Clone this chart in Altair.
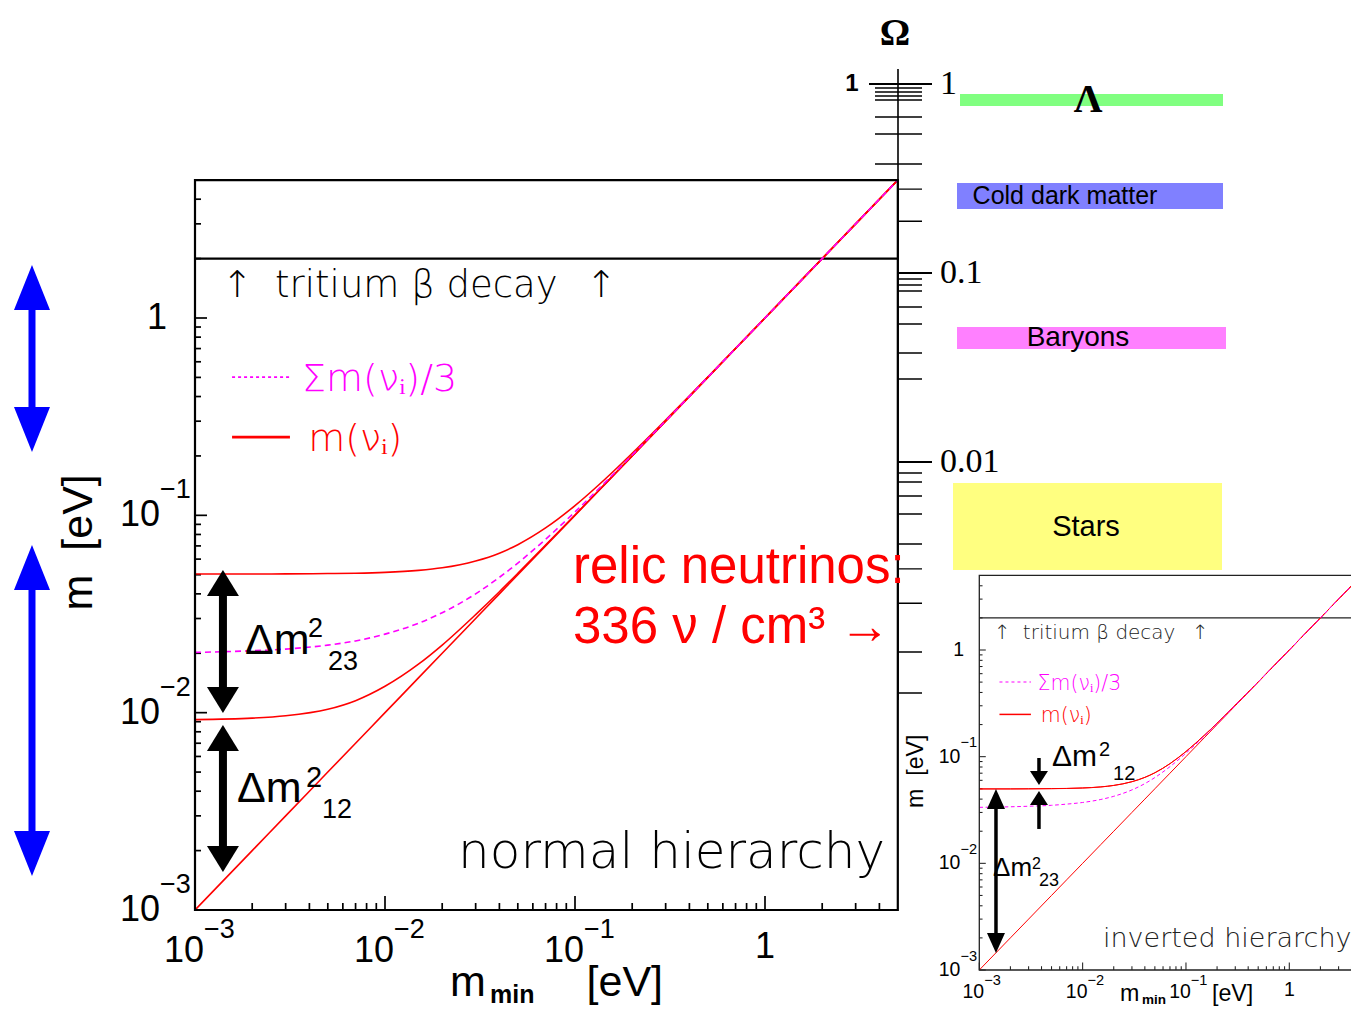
import math
import altair as alt
import pandas as pd

W, H = 1343, 1000
PAGE = 8

# ---------------- values ----------------
m_min = [0.001, 0.002, 0.003, 0.005, 0.007, 0.01, 0.015, 0.02, 0.03, 0.04,
         0.05, 0.07, 0.1, 0.15, 0.2, 0.3, 0.5, 0.7, 1.0, 2.0, 5.0]

# normal hierarchy
nh_m1 = [0.001, 0.002, 0.003, 0.005, 0.007, 0.01, 0.015, 0.02, 0.03, 0.04,
         0.05, 0.07, 0.1, 0.15, 0.2, 0.3, 0.5, 0.7, 1.0, 2.0, 5.0]
nh_m2 = [0.00922, 0.00938, 0.00964, 0.0104, 0.0115, 0.0136, 0.0176, 0.0220, 0.0314, 0.0410,
         0.0508, 0.0706, 0.1004, 0.1503, 0.2002, 0.3001, 0.5001, 0.7001, 1.0, 2.0, 5.0]
nh_m3 = [0.0504, 0.0504, 0.0505, 0.0507, 0.0509, 0.0514, 0.0526, 0.0542, 0.0587, 0.0643,
         0.0710, 0.0863, 0.1120, 0.1582, 0.2063, 0.3042, 0.5025, 0.7018, 1.0013, 2.0006, 5.0]
nh_sum3 = [0.0202, 0.0206, 0.0210, 0.0220, 0.0231, 0.0250, 0.0284, 0.0321, 0.0400, 0.0485,
           0.0573, 0.0756, 0.1041, 0.1528, 0.2022, 0.3014, 0.5009, 0.7006, 1.0004, 2.0002, 5.0]

# inverted hierarchy (inset)
ih_m1 = [0.0498, 0.0498, 0.0499, 0.0501, 0.0503, 0.0508, 0.0520, 0.0537, 0.0582, 0.0639,
         0.0706, 0.0859, 0.1117, 0.1580, 0.2061, 0.3041, 0.5025, 0.7018, 1.0012, 2.0006, 5.0]
ih_m2 = [0.0499, 0.0499, 0.0500, 0.0502, 0.0504, 0.0509, 0.0521, 0.0538, 0.0583, 0.0640,
         0.0707, 0.0860, 0.1118, 0.1581, 0.2062, 0.3041, 0.5025, 0.7018, 1.0012, 2.0006, 5.0]
ih_m3 = [0.001, 0.002, 0.003, 0.005, 0.007, 0.01, 0.015, 0.02, 0.03, 0.04,
         0.05, 0.07, 0.1, 0.15, 0.2, 0.3, 0.5, 0.7, 1.0, 2.0, 5.0]
ih_sum3 = [0.0335, 0.0339, 0.0343, 0.0350, 0.0359, 0.0372, 0.0397, 0.0425, 0.0488, 0.0559,
           0.0637, 0.0806, 0.1078, 0.1553, 0.2041, 0.3027, 0.5017, 0.7012, 1.0008, 2.0004, 5.0]

frame_x = [0.001, 5.0]
frame_y = [0.001, 5.0]
tritium_limit = 2.0

x_major = [0.001, 0.01, 0.1, 1.0]
x_minor = [0.002, 0.003, 0.004, 0.005, 0.006, 0.007, 0.008, 0.009,
           0.02, 0.03, 0.04, 0.05, 0.06, 0.07, 0.08, 0.09,
           0.2, 0.3, 0.4, 0.5, 0.6, 0.7, 0.8, 0.9, 2.0, 3.0, 4.0]
y_major = [0.001, 0.01, 0.1, 1.0]
y_minor = x_minor
tick_base = ["10", "10", "10", "1"]
tick_exp = ["\u22123", "\u22122", "\u22121", ""]

omega_major = [1.0, 0.1, 0.01]
omega_major_labels = ["1", "0.1", "0.01"]
omega_minor = [0.952, 0.907, 0.864, 0.823, 0.669, 0.544, 0.377, 0.278, 0.188,
               0.093, 0.0864, 0.0803, 0.0661, 0.0537, 0.0377, 0.0275,
               0.00875, 0.00784, 0.00661, 0.00531, 0.00368, 0.00272, 0.00179,
               0.000988, 0.000599]
omega_axis_span = [1.2, 0.00055]

band_names = ["\u039b", "Cold dark matter", "Baryons", "Stars"]
band_top = [0.885, 0.2995, 0.0518, 0.00774]
band_bottom = [0.765, 0.218, 0.0396, 0.00268]
band_colors = ["#80ff80", "#8080ff", "#ff80ff", "#ffff80"]

# ---------------- layout (page pixels) ----------------
band_x0 = [960, 957, 957, 953]
band_x1 = [1223, 1223, 1226, 1222]
band_label_x = [1088, 1065, 1078, 1086]
band_label_font = [("Liberation Serif", 40, "bold"), ("Liberation Sans", 25, "normal"),
                   ("Liberation Sans", 28, "normal"), ("Liberation Sans", 29, "normal")]
omega_line_x = 898
omega_minor_x = [875, 922]
omega_major_x = [869, 932]
omega_label_x = 940


def log_domain(v1, p1, v2, p2, length, axis):
    a, b = math.log10(v1), math.log10(v2)
    k = (b - a) / (p2 - p1)
    lo_p, hi_p = (0, length) if axis == "x" else (length, 0)
    return [10 ** (a + (lo_p - p1) * k), 10 ** (a + (hi_p - p1) * k)]


def logscale(dom):
    return alt.Scale(type="log", domain=dom, nice=False)


MX = logscale(log_domain(1e-3, 195 - PAGE, 1.0, 765 - PAGE, W, "x"))
MY = logscale(log_domain(1e-3, 910 - PAGE, 1.0, 318 - PAGE, H, "y"))
IX = logscale(log_domain(1e-3, 979.3 - PAGE, 1.0, 1289.3 - PAGE, W, "x"))
IY = logscale(log_domain(1e-3, 970 - PAGE, 1.0, 650 - PAGE, H, "y"))
OX = alt.Scale(type="linear", domain=[PAGE, PAGE + W], nice=False, zero=False)
OY = logscale(log_domain(0.01, 462 - PAGE, 1.0, 84 - PAGE, H, "y"))


def exy(xs, ys):
    return dict(x=alt.X("x:Q", scale=xs, axis=None), y=alt.Y("y:Q", scale=ys, axis=None))


def texts(rows, xs, ys, **mk):
    return alt.Chart(pd.DataFrame(rows)).mark_text(**mk).encode(text="t:N", **exy(xs, ys))


def arrow(xs, ys, x, y_top, y_bot, heads, color, shaft, hw, hh):
    out = []
    r = max(hw, hh) / 2.0
    a, b = hw / 2.0 / r, hh / 2.0 / r
    up = f"M {-a:.3f} {b:.3f} L {a:.3f} {b:.3f} L 0 {-b:.3f} Z"
    down = f"M {-a:.3f} {-b:.3f} L {a:.3f} {-b:.3f} L 0 {b:.3f} Z"
    size = (2 * r) ** 2
    mk = dict(color=color, strokeWidth=shaft)
    if "top" in heads:
        mk["yOffset"] = hh * 0.6
    if "bottom" in heads:
        mk["y2Offset"] = -hh * 0.6
    df = pd.DataFrame({"x": [x], "y": [y_top], "y2": [y_bot]})
    out.append(alt.Chart(df).mark_rule(**mk).encode(y2=alt.Y2("y2"), **exy(xs, ys)))
    if "top" in heads:
        out.append(alt.Chart(pd.DataFrame({"x": [x], "y": [y_top]})).mark_point(
            shape=up, size=size, filled=True, color=color, opacity=1, strokeWidth=0,
            yOffset=hh / 2.0).encode(**exy(xs, ys)))
    if "bottom" in heads:
        out.append(alt.Chart(pd.DataFrame({"x": [x], "y": [y_bot]})).mark_point(
            shape=down, size=size, filled=True, color=color, opacity=1, strokeWidth=0,
            yOffset=-hh / 2.0).encode(**exy(xs, ys)))
    return out


THIN = "DejaVu Sans"
SANS = "Liberation Sans"


def panel(xs, ys, f, solid, dashed, hier_text, hier_x, deltas, arrows, frame_w, curve_w, frame_color,
          xtitle):
    L = []
    fr = pd.DataFrame({"x": [frame_x[0]], "x2": [frame_x[1]], "y": [frame_y[0]], "y2": [frame_y[1]]})
    L.append(alt.Chart(fr).mark_rect(fill="white", strokeWidth=0).encode(
        x2=alt.X2("x2"), y2=alt.Y2("y2"), **exy(xs, ys)))
    tr = pd.DataFrame({"x": [frame_x[0]], "x2": [frame_x[1]], "y": [tritium_limit]})
    L.append(alt.Chart(tr).mark_rule(color=frame_color, strokeWidth=frame_w).encode(
        x2=alt.X2("x2"), **exy(xs, ys)))
    # ticks
    for vals, ln in ((y_major, 12), (y_minor, 6)):
        df = pd.DataFrame({"x": frame_x[0], "y": vals})
        L.append(alt.Chart(df).mark_rule(color=frame_color, strokeWidth=1.4 * f + 0.3,
                                         x2Offset=ln * f).encode(x2=alt.X2("x"), **exy(xs, ys)))
    for vals, ln in ((x_major, 14), (x_minor, 7)):
        df = pd.DataFrame({"x": vals, "y": frame_y[0]})
        L.append(alt.Chart(df).mark_rule(color=frame_color, strokeWidth=1.4 * f + 0.3,
                                         y2Offset=-ln * f).encode(y2=alt.Y2("y"), **exy(xs, ys)))
    # curves
    n = len(m_min)
    sdf = pd.DataFrame({"x": m_min * len(solid), "y": sum(solid, []),
                        "s": sum([[f"m{i}"] * n for i in range(len(solid))], [])})
    L.append(alt.Chart(sdf).mark_line(color="#ff0000", strokeWidth=curve_w, interpolate="monotone").encode(
        detail="s:N", **exy(xs, ys)))
    ddf = pd.DataFrame({"x": m_min, "y": dashed})
    L.append(alt.Chart(ddf).mark_line(color="#ff00ff", strokeWidth=curve_w, strokeDash=[5 * f + 1, 3 * f + 1],
                                      interpolate="monotone").encode(**exy(xs, ys)))
    # legend
    lg1 = pd.DataFrame({"x": [1.567e-3], "x2": [3.16e-3], "y": [0.502]})
    L.append(alt.Chart(lg1).mark_rule(color="#ff00ff", strokeWidth=1.6 * f + 0.2,
                                      strokeDash=[3, 3]).encode(x2=alt.X2("x2"), **exy(xs, ys)))
    lg2 = pd.DataFrame({"x": [1.567e-3], "x2": [3.16e-3], "y": [0.249]})
    L.append(alt.Chart(lg2).mark_rule(color="#ff0000", strokeWidth=2.4 * f + 0.2).encode(
        x2=alt.X2("x2"), **exy(xs, ys)))
    L.append(texts([{"x": 3.66e-3, "y": 0.485, "t": "\u03a3m(\u03bd\u1d62)/3"}], xs, ys, align="left",
                   baseline="middle", font=THIN, fontWeight=200, fontSize=38 * f, color="#ff00ff"))
    L.append(texts([{"x": 3.94e-3, "y": 0.241, "t": "m(\u03bd\u1d62)"}], xs, ys, align="left",
                   baseline="middle", font=THIN, fontWeight=200, fontSize=38 * f, color="#ff0000"))
    # tritium label
    L.append(texts([{"x": 1.665e-3, "y": 1.45, "t": "\u2191"}, {"x": 0.137, "y": 1.45, "t": "\u2191"}],
                   xs, ys, align="center", baseline="middle", font=THIN, fontWeight=200,
                   fontSize=37 * f, color=frame_color))
    L.append(texts([{"x": 2.64e-3, "y": 1.45, "t": "tritium \u03b2 decay"}], xs, ys, align="left",
                   baseline="middle", font=THIN, fontWeight=200, fontSize=37 * f, color=frame_color))
    # tick labels
    yb = [{"x": frame_x[0], "y": v, "t": b} for v, b in zip(y_major, tick_base) if b == "10"]
    ye = [{"x": frame_x[0], "y": v, "t": e} for v, b, e in zip(y_major, tick_base, tick_exp) if b == "10"]
    y1 = [{"x": frame_x[0], "y": v, "t": b} for v, b in zip(y_major, tick_base) if b != "10"]
    L.append(texts(yb, xs, ys, align="right", baseline="middle", dx=-35 * f, font=SANS, fontSize=36 * f))
    L.append(texts(ye, xs, ys, align="left", baseline="middle", dx=-35 * f, dy=-25 * f, font=SANS,
                   fontSize=27 * f))
    L.append(texts(y1, xs, ys, align="center", baseline="middle", dx=-38 * f, font=SANS, fontSize=36 * f))
    xb = [{"x": v, "y": frame_y[0], "t": b} for v, b in zip(x_major, tick_base) if b == "10"]
    xe = [{"x": v, "y": frame_y[0], "t": e} for v, b, e in zip(x_major, tick_base, tick_exp) if b == "10"]
    x1 = [{"x": v, "y": frame_y[0], "t": b} for v, b in zip(x_major, tick_base) if b != "10"]
    L.append(texts(xb, xs, ys, align="right", baseline="middle", dx=9 * f, dy=41 * f, font=SANS,
                   fontSize=36 * f))
    L.append(texts(xe, xs, ys, align="left", baseline="middle", dx=9 * f, dy=20 * f, font=SANS,
                   fontSize=27 * f))
    L.append(texts(x1, xs, ys, align="center", baseline="middle", dy=37 * f, font=SANS, fontSize=36 * f))
    # axis titles
    L.append(texts([{"x": 2.46e-4, "y": 0.073, "t": "m\u00a0\u00a0[eV]"}], xs, ys, align="center",
                   baseline="middle", angle=270, font=SANS, fontSize=43 * f))
    (mx_, my_), (nx_, ny_), (ex_, ey_) = xtitle
    L.append(texts([{"x": mx_, "y": my_, "t": "m"}, {"x": ex_, "y": ey_, "t": "[eV]"}],
                   xs, ys, align="left", baseline="alphabetic", font=SANS, fontSize=43 * f))
    L.append(texts([{"x": nx_, "y": ny_, "t": "min"}], xs, ys, align="left",
                   baseline="alphabetic", font=SANS, fontWeight="bold", fontSize=25 * f))
    # hierarchy label
    L.append(texts([{"x": hier_x, "y": 1.945e-3, "t": hier_text}], xs, ys, align="right",
                   baseline="middle", font=THIN, fontWeight=200, fontSize=50 * f, color=frame_color))
    # delta m labels
    for (ax, ay, parts) in deltas:
        for (t, dx, dy, fs) in parts:
            L.append(texts([{"x": ax, "y": ay, "t": t}], xs, ys, align="left", baseline="middle",
                           dx=dx, dy=dy, font=SANS, fontSize=fs, color="black"))
    for spec in arrows:
        L.extend(arrow(xs, ys, *spec))
    # frame
    L.append(alt.Chart(fr).mark_rect(fill="white", fillOpacity=0, stroke=frame_color,
                                     strokeWidth=frame_w).encode(x2=alt.X2("x2"), y2=alt.Y2("y2"),
                                                                 **exy(xs, ys)))
    return L


# ---------------- Omega column ----------------
O = []
O.append(alt.Chart(pd.DataFrame({"x": [omega_line_x], "y": [omega_axis_span[0]], "y2": [omega_axis_span[1]]}))
         .mark_rule(color="black", strokeWidth=1.6).encode(y2=alt.Y2("y2"), **exy(OX, OY)))
O.append(alt.Chart(pd.DataFrame({"x": omega_minor_x[0], "x2": omega_minor_x[1], "y": omega_minor}))
         .mark_rule(color="black", strokeWidth=1.4).encode(x2=alt.X2("x2"), **exy(OX, OY)))
O.append(alt.Chart(pd.DataFrame({"x": omega_major_x[0], "x2": omega_major_x[1], "y": omega_major}))
         .mark_rule(color="black", strokeWidth=1.8).encode(x2=alt.X2("x2"), **exy(OX, OY)))
bdf = pd.DataFrame({"x": band_x0, "x2": band_x1, "y": band_top, "y2": band_bottom, "c": band_colors})
O.append(alt.Chart(bdf).mark_rect(strokeWidth=0).encode(
    x2=alt.X2("x2"), y2=alt.Y2("y2"), color=alt.Color("c:N", scale=None), **exy(OX, OY)))
for name, top, bot, lx, (fnt, fs, fw) in zip(band_names, band_top, band_bottom, band_label_x, band_label_font):
    O.append(texts([{"x": lx, "y": math.sqrt(top * bot), "t": name}], OX, OY, align="center",
                   baseline="middle", font=fnt, fontSize=fs, fontWeight=fw, color="black"))
O.append(texts([{"x": omega_label_x, "y": v, "t": t} for v, t in zip(omega_major, omega_major_labels)],
               OX, OY, align="left", baseline="middle", font="Liberation Serif", fontSize=34))
O.append(texts([{"x": 852, "y": 1.0, "t": "1"}], OX, OY, align="center", baseline="middle",
               font=SANS, fontWeight="bold", fontSize=24))
O.append(texts([{"x": 895, "y": 1.84, "t": "\u03a9"}], OX, OY, align="center", baseline="middle",
               font="Liberation Serif", fontWeight="bold", fontSize=38))

# ---------------- main panel (normal hierarchy) ----------------
main_deltas = [
    (1.833e-3, 0.02307, [("\u0394m", 0, 0, 43), ("2", 63, -12, 27), ("23", 83, 21, 27)]),
    (1.665e-3, 4.10e-3, [("\u0394m", 0, 0, 43), ("2", 69, -11, 29), ("12", 85, 21, 27)]),
]
main_arrows = [
    (1.403e-3, 0.0528, 0.00996, ("top", "bottom"), "black", 8, 32, 26),
    (1.403e-3, 0.00866, 1.558e-3, ("top", "bottom"), "black", 8, 32, 26),
    (1.387e-4, 1.856, 0.2094, ("top", "bottom"), "#0000ff", 7, 36, 45),
    (1.387e-4, 0.0707, 1.486e-3, ("top", "bottom"), "#0000ff", 7, 36, 45),
]
main_xtitle = ((0.022, 3.65e-4), (0.0357, 3.36e-4), (0.115, 3.65e-4))
M = panel(MX, MY, 1.0, [nh_m1, nh_m2, nh_m3], nh_sum3, "normal hierarchy", 4.28,
          main_deltas, main_arrows, 2.2, 1.6, "black", main_xtitle)
M.append(texts([{"x": 0.0976, "y": 0.0454, "t": "relic neutrinos:"},
                {"x": 0.0976, "y": 0.02254, "t": "336 \u03bd / cm\u00b3 \u2192"}], MX, MY,
               align="left", baseline="alphabetic", font=SANS, fontSize=51, color="#ff0000"))

# ---------------- inset panel (inverted hierarchy) ----------------
inset_deltas = [
    (5.06e-3, 0.0993, [("\u0394m", 0, 0, 30), ("2", 47, -7, 20), ("12", 61, 17, 20)]),
    (1.358e-3, 9.04e-3, [("\u0394m", 0, 0, 26), ("2", 39, -4, 16), ("23", 46, 13, 18)]),
]
inset_arrows = [
    (1.45e-3, 0.0498, 1.44e-3, ("top", "bottom"), "black", 3.5, 18, 20),
    (3.78e-3, 0.0972, 0.0542, ("bottom",), "black", 3.5, 18, 14),
    (3.78e-3, 0.0477, 0.021, ("top",), "black", 3.5, 18, 14),
]
inset_xtitle = ((0.023, 5.12e-4), (0.0376, 4.80e-4), (0.1786, 5.12e-4))
I = panel(IX, IY, 0.54, [ih_m1, ih_m2, ih_m3], ih_sum3, "inverted hierarchy", 4.0,
          inset_deltas, inset_arrows, 1.3, 1.0, "#222222", inset_xtitle)

chart = alt.layer(alt.layer(*O), alt.layer(*M), alt.layer(*I)).resolve_scale(
    x="independent", y="independent"
).properties(
    width=W, height=H, padding=0, autosize=alt.AutoSizeParams(type="none")
).configure_view(stroke=None)

chart.save("out.html", embed_options={"renderer": "svg", "actions": False})
